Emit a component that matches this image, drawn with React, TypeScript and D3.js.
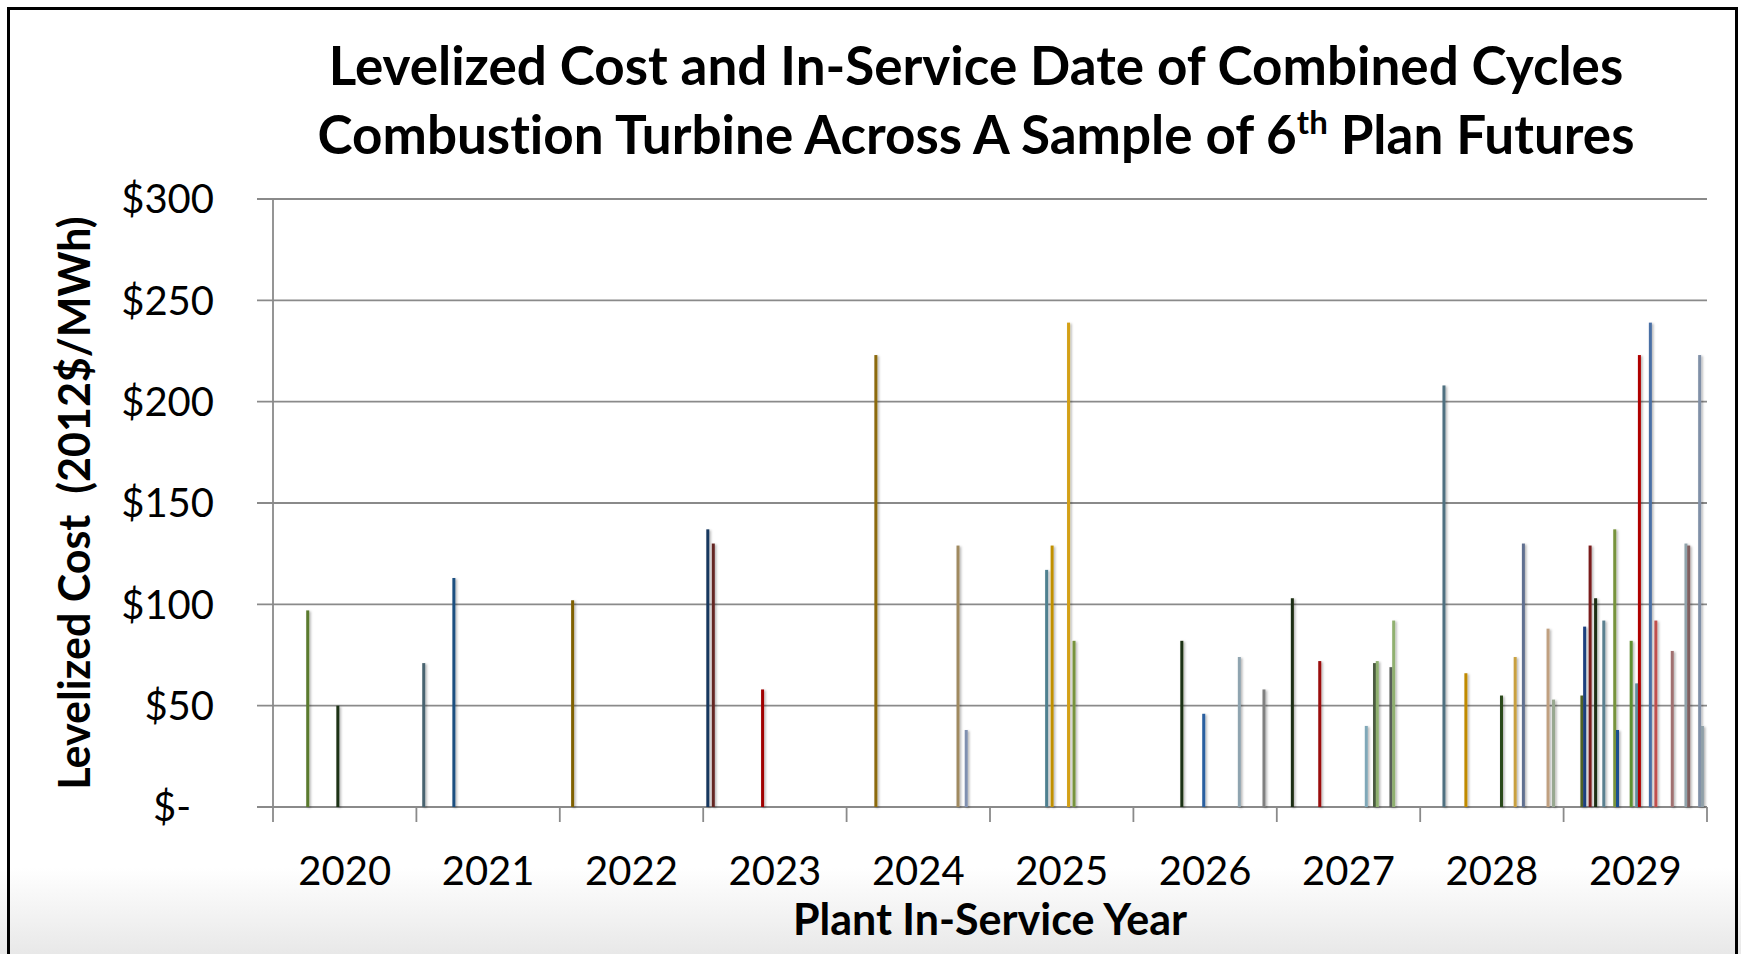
import React, { useEffect, useRef } from 'react';
import * as d3 from 'd3';

// in-service years on the category axis
const years = ['2020', '2021', '2022', '2023', '2024', '2025', '2026', '2027', '2028', '2029'];

// one entry per future, in the order the futures sit inside every year cluster
const futureYears = [
  '2023', '2021', '2023', '2022', '2027', '2029', '2029', '2028', '2029', '2024',
  '2029', '2020', '2021', '2029', '2027', '2028', '2026', '2029', '2029', '2025',
  '2023', '2025', '2020', '2029', '2026', '2029', '2029', '2025', '2028', '2025',
  '2029', '2027', '2029', '2028', '2027', '2027', '2028', '2026', '2029', '2024',
  '2027', '2027', '2024', '2029', '2029', '2028', '2026', '2028', '2029', '2029',
];
// levelized cost, 2012$/MWh
const futureCosts = [
  137, 71, 130, 102, 103, 55, 89, 208, 129, 223,
  103, 97, 113, 92, 72, 66, 82, 137, 38, 117,
  58, 129, 50, 82, 46, 61, 223, 239, 55, 82,
  239, 40, 92, 74, 71, 72, 130, 74, 77, 129,
  69, 92, 38, 130, 129, 88, 58, 53, 223, 40,
];

const yTicks = [0, 50, 100, 150, 200, 250, 300];

// excel style series colours: 6 theme families, shaded a bit more every round of 6 series
const palette = [
  ['#17375e', '#1f3f7f', '#1f4f80', '#1f4f8f', '#2a5fa0', '#4a6fa5', '#607090', '#8090b0', '#8090a8'],
  ['#4a6470', '#4f6f80', '#5a8090', '#4f8090', '#6090a0', '#80a8b8', '#8fa4b0', '#90a4ac', '#90a0a8'],
  ['#632523', '#7a1c1c', '#9b1010', '#a00000', '#b00000', '#c0504d', '#a07070', '#806060', '#806060'],
  ['#7f6000', '#8c6a10', '#c08a00', '#c09000', '#d4a017', '#c8a040', '#a08a60', '#c0a080', '#c0a080'],
  ['#1e2e12', '#1e2e12', '#1e3312', '#1e3312', '#2a4a1a', '#4a5a40', '#5a605a', '#808080', '#808080'],
  ['#4f6228', '#5a7a2e', '#77933c', '#5f8f30', '#77933c', '#8fb070', '#90b070', '#98a890', '#98a890'],
];
const seriesColor = (i: number) => palette[i % 6][Math.floor(i / 6)];

const width = 1741, height = 954;
const margin = { top: 199, right: 34, bottom: 147, left: 273 };
const font = 'Lato, "Open Sans", sans-serif';

export default function App() {
  const ref = useRef<SVGSVGElement>(null);

  useEffect(() => {
    const svg = d3.select(ref.current);
    svg.selectAll('*').remove();

    const x0 = d3.scaleBand().domain(years).range([margin.left, width - margin.right]);
    const x1 = d3.scaleBand<number>()
      .domain(d3.range(futureCosts.length))
      .range([0, x0.bandwidth()])
      .paddingOuter(1.18);
    const y = d3.scaleLinear().domain([0, 300]).range([height - margin.bottom, margin.top]);
    const barW = 3;

    const defs = svg.append('defs');
    const bg = defs.append('linearGradient').attr('id', 'bg')
      .attr('gradientUnits', 'userSpaceOnUse')
      .attr('x1', 0).attr('x2', 0).attr('y1', 868).attr('y2', height);
    bg.append('stop').attr('offset', 0).attr('stop-color', '#ffffff');
    bg.append('stop').attr('offset', 1).attr('stop-color', '#e8e8e8');
    defs.append('filter').attr('id', 'shadow')
      .attr('x', '-200%').attr('width', '500%')
      .append('feDropShadow')
      .attr('dx', 1.5).attr('dy', 1).attr('stdDeviation', 1.3)
      .attr('flood-color', '#000').attr('flood-opacity', 0.3);

    // slide background + frame
    svg.append('rect').attr('x', 0).attr('y', 0).attr('width', width).attr('height', height)
      .attr('fill', 'url(#bg)');
    svg.append('rect').attr('x', 8.5).attr('y', 8.5).attr('width', 1728).attr('height', 980)
      .attr('fill', 'none').attr('stroke', '#000').attr('stroke-width', 3);

    // title
    const title = svg.append('text').attr('text-anchor', 'middle')
      .attr('font-family', font).attr('font-weight', 700).attr('font-size', 53).attr('fill', '#000')
      .style('font-variant-ligatures', 'none');
    title.append('tspan').attr('x', 976).attr('y', 85)
      .text('Levelized Cost and In-Service Date of Combined Cycles');
    const l2 = title.append('tspan').attr('x', 976).attr('y', 154);
    l2.append('tspan').text('Combustion Turbine Across A Sample of 6');
    l2.append('tspan').attr('font-size', 33).attr('dy', -20).text('th');
    l2.append('tspan').attr('dy', 20).text(' Plan Futures');

    // gridlines (they run out past the axis as tick marks)
    svg.append('g').selectAll('line').data(yTicks).join('line')
      .attr('x1', margin.left - 16).attr('x2', width - margin.right)
      .attr('y1', d => y(d)).attr('y2', d => y(d))
      .attr('stroke', '#8a8a8a').attr('stroke-width', 1.8);

    svg.append('line')
      .attr('x1', margin.left).attr('x2', margin.left)
      .attr('y1', y(300)).attr('y2', y(0) + 15)
      .attr('stroke', '#8a8a8a').attr('stroke-width', 1.8);

    // category boundaries on the x axis
    const bounds = years.map(d => x0(d) as number).concat([x0.range()[1]]);
    svg.append('g').selectAll('line').data(bounds.slice(1)).join('line')
      .attr('x1', d => d).attr('x2', d => d)
      .attr('y1', y(0)).attr('y2', y(0) + 15)
      .attr('stroke', '#8a8a8a').attr('stroke-width', 1.8);

    // y tick labels
    svg.append('g').selectAll('text').data(yTicks).join('text')
      .attr('x', 214).attr('dx', d => (d === 0 ? -23 : 0))
      .attr('y', d => y(d)).attr('dy', '0.36em')
      .attr('text-anchor', 'end')
      .attr('font-family', font).attr('font-size', 40).attr('fill', '#000')
      .text(d => (d === 0 ? '$-' : `$${d}`));

    // x tick labels
    svg.append('g').selectAll('text').data(years).join('text')
      .attr('x', d => (x0(d) as number) + x0.bandwidth() / 2)
      .attr('y', 885)
      .attr('text-anchor', 'middle')
      .attr('font-family', font).attr('font-size', 40).attr('fill', '#000')
      .text(d => d);

    // axis titles
    svg.append('text')
      .attr('transform', `translate(90,${(y(0) + y(300)) / 2}) rotate(-90)`)
      .attr('text-anchor', 'middle')
      .attr('font-family', font).attr('font-weight', 700).attr('font-size', 43)
      .style('white-space', 'pre')
      .text('Levelized Cost  (2012$/MWh)');
    svg.append('text')
      .attr('x', (margin.left + width - margin.right) / 2).attr('y', 935)
      .attr('text-anchor', 'middle')
      .attr('font-family', font).attr('font-weight', 700).attr('font-size', 43)
      .text('Plant In-Service Year');

    // one column per future
    svg.append('g').attr('filter', 'url(#shadow)')
      .selectAll('rect').data(futureCosts).join('rect')
      .attr('x', (d, i) => (x0(futureYears[i]) as number) + (x1(i) as number) + (x1.bandwidth() - barW) / 2)
      .attr('width', barW)
      .attr('y', d => y(d))
      .attr('height', d => y(0) - y(d))
      .attr('fill', (d, i) => seriesColor(i));
  }, []);

  return (
    <svg ref={ref} width={width} height={height}
      style={{ position: 'absolute', left: 0, top: 0, display: 'block' }} />
  );
}
